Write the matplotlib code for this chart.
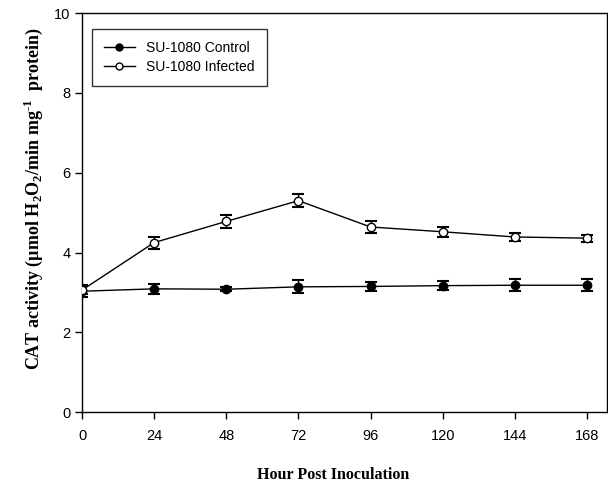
import numpy as np
import matplotlib.pyplot as plt
from matplotlib.lines import Line2D

plt.rcParams['mathtext.fontset'] = 'custom'
plt.rcParams['mathtext.rm'] = 'Liberation Serif:bold'
plt.rcParams['mathtext.bf'] = 'Liberation Serif:bold'

hours = [0, 24, 48, 72, 96, 120, 144, 168]
control = [3.03, 3.09, 3.08, 3.14, 3.15, 3.17, 3.18, 3.18]
control_err = [0.15, 0.12, 0.05, 0.16, 0.11, 0.11, 0.15, 0.15]
infected = [3.06, 4.25, 4.78, 5.30, 4.64, 4.52, 4.39, 4.36]
infected_err = [0.10, 0.15, 0.16, 0.16, 0.16, 0.13, 0.09, 0.09]
xticks = [0, 24, 48, 72, 96, 120, 144, 168]
yticks = [0, 2, 4, 6, 8, 10]

fig = plt.figure(figsize=(6.08, 4.86), dpi=100)
ax = fig.add_axes([0.135, 0.152, 0.863, 0.821])

# control series (filled) and infected series (open)
ax.errorbar(hours, control, yerr=control_err, color='black', lw=1,
            marker='o', ms=6, mfc='black', mec='black',
            capsize=4.5, capthick=1.5, elinewidth=1, zorder=3)
ax.errorbar(hours, infected, yerr=infected_err, color='black', lw=1,
            marker='o', ms=6, mfc='white', mec='black',
            capsize=4.5, capthick=1.5, elinewidth=1, zorder=3)

ax.set_xlim(0, 174.6)
ax.set_ylim(0, 10)
ax.set_xticks(xticks)
ax.set_yticks(yticks)
ax.tick_params(direction='out', length=5, width=1, labelsize=10.5,
               top=False, right=False)
for lab in ax.get_xticklabels() + ax.get_yticklabels():
    lab.set_fontfamily('Liberation Sans')
ax.tick_params(axis='x', pad=7)

for sp in ax.spines.values():
    sp.set_linewidth(1)

ax.set_xlabel('Hour Post Inoculation', fontfamily='Liberation Serif',
              fontweight='bold', fontsize=11.5)
ax.xaxis.set_label_coords(0.478, -0.137)
ax.set_ylabel(r'CAT activity (µmol H$_2$O$_2$/min mg$^{\text{-}1}$  protein)',
              fontfamily='Liberation Serif', fontweight='bold', fontsize=13)
ax.yaxis.set_label_coords(-0.07, 0.534)

handles = [
    Line2D([], [], color='black', lw=1, marker='o', ms=5, mfc='black', mec='black'),
    Line2D([], [], color='black', lw=1, marker='o', ms=5, mfc='white', mec='black'),
]
leg = ax.legend(handles, ['SU-1080 Control', 'SU-1080 Infected'],
                loc='upper left', bbox_to_anchor=(0.005, 0.978),
                prop={'family': 'Liberation Sans', 'size': 10},
                frameon=True, fancybox=False, edgecolor='black',
                handlelength=2.2, borderpad=0.9, labelspacing=0.3,
                borderaxespad=0.5)
leg.get_frame().set_linewidth(1)

fig.savefig('out.png', dpi=100)
